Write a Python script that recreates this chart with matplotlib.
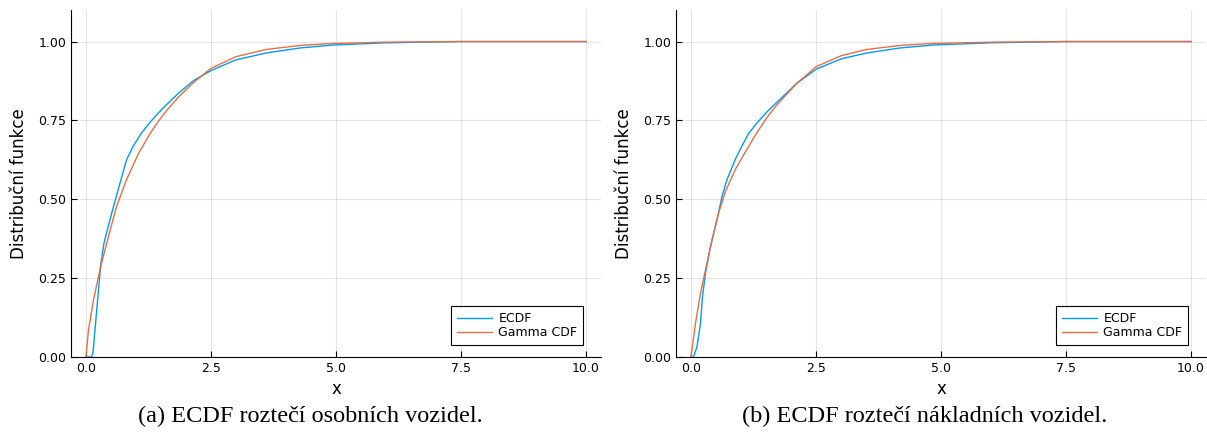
import matplotlib.pyplot as plt

# Odečtené body křivek (x = rozteč, y = distribuční funkce)
osobni_ecdf_x = [0.00, 0.11, 0.14, 0.18, 0.25, 0.29, 0.36, 0.41, 0.55, 0.68, 0.81, 0.95, 1.11,
                 1.28, 1.45, 1.61, 1.85, 2.15, 2.50, 3.00, 3.61, 4.30, 4.95, 6.00, 7.50, 10.00]
osobni_ecdf_y = [0.000, 0.000, 0.015, 0.086, 0.213, 0.287, 0.361, 0.393, 0.477, 0.551, 0.625, 0.670, 0.710,
                 0.744, 0.774, 0.800, 0.836, 0.876, 0.908, 0.942, 0.964, 0.980, 0.989, 0.996, 1.000, 1.000]
osobni_gamma_x = [0.00, 0.05, 0.15, 0.25, 0.31, 0.45, 0.61, 0.81, 1.05, 1.28, 1.45, 1.61, 1.85,
                  2.15, 2.50, 3.00, 3.61, 4.30, 4.95, 6.00, 7.50, 10.00]
osobni_gamma_y = [0.000, 0.086, 0.181, 0.255, 0.297, 0.382, 0.477, 0.562, 0.645, 0.708, 0.748, 0.781, 0.824,
                  0.870, 0.915, 0.952, 0.975, 0.988, 0.994, 0.998, 1.000, 1.000]

nakladni_ecdf_x = [0.00, 0.05, 0.12, 0.19, 0.23, 0.29, 0.39, 0.52, 0.62, 0.72, 0.89, 0.99, 1.15,
                   1.32, 1.50, 1.72, 2.12, 2.50, 3.00, 3.52, 4.20, 4.85, 6.00, 7.50, 10.00]
nakladni_ecdf_y = [0.000, 0.000, 0.033, 0.107, 0.191, 0.266, 0.350, 0.435, 0.509, 0.562, 0.628, 0.660, 0.708,
                   0.742, 0.774, 0.808, 0.868, 0.912, 0.945, 0.964, 0.980, 0.989, 0.996, 1.000, 1.000]
nakladni_gamma_x = [0.00, 0.09, 0.19, 0.29, 0.42, 0.55, 0.69, 0.89, 1.05, 1.29, 1.50, 1.72, 2.12,
                    2.50, 3.00, 3.52, 4.20, 4.85, 6.00, 7.50, 10.00]
nakladni_gamma_y = [0.000, 0.107, 0.202, 0.276, 0.371, 0.456, 0.525, 0.596, 0.640, 0.704, 0.755, 0.800, 0.868,
                    0.920, 0.955, 0.975, 0.988, 0.994, 0.998, 1.000, 1.000]

x_ticks = [0.0, 2.5, 5.0, 7.5, 10.0]
y_ticks = [0.00, 0.25, 0.50, 0.75, 1.00]

panels = [
    (osobni_ecdf_x, osobni_ecdf_y, osobni_gamma_x, osobni_gamma_y, "(a) ECDF roztečí osobních vozidel."),
    (nakladni_ecdf_x, nakladni_ecdf_y, nakladni_gamma_x, nakladni_gamma_y, "(b) ECDF roztečí nákladních vozidel."),
]

fig = plt.figure(figsize=(12.07, 4.43), dpi=100)
lefts = [71 / 1207, 676 / 1207]
caption_x = [310 / 1207, 925 / 1207]

for i, (ex, ey, gx, gy, caption) in enumerate(panels):
    ax = fig.add_axes([lefts[i], 86 / 443, 530 / 1207, 347 / 443])
    ax.plot(ex, ey, color='#009AFA', linewidth=1.0, label='ECDF')
    ax.plot(gx, gy, color='#E36F47', linewidth=1.0, label='Gamma CDF')
    ax.set_xlim(-0.3, 10.3)
    ax.set_ylim(0, 1.1)
    ax.set_xticks(x_ticks)
    ax.set_yticks(y_ticks)
    ax.set_xticklabels([f"{t:.1f}" for t in x_ticks])
    ax.set_yticklabels([f"{t:.2f}" for t in y_ticks])
    ax.tick_params(direction='in', length=4, width=0.8, labelsize=9)
    ax.grid(True, color='black', alpha=0.1, linewidth=0.8)
    ax.set_axisbelow(True)
    for s in ['top', 'right']:
        ax.spines[s].set_visible(False)
    ax.set_xlabel("x", fontsize=12, labelpad=4)
    ax.set_ylabel("Distribuční funkce", fontsize=12, labelpad=7)
    leg = ax.legend(loc='lower right', bbox_to_anchor=(0.966, 0.035), fontsize=9,
                    fancybox=False, framealpha=1, edgecolor='black', handlelength=2.8,
                    handletextpad=0.5, borderpad=0.45, labelspacing=0.1, borderaxespad=0)
    leg.get_frame().set_linewidth(0.8)
    fig.text(caption_x[i], 1 - 416 / 443, caption, ha='center', va='center',
             fontsize=17.5, family='Liberation Serif')

fig.savefig('out.png', dpi=100)
